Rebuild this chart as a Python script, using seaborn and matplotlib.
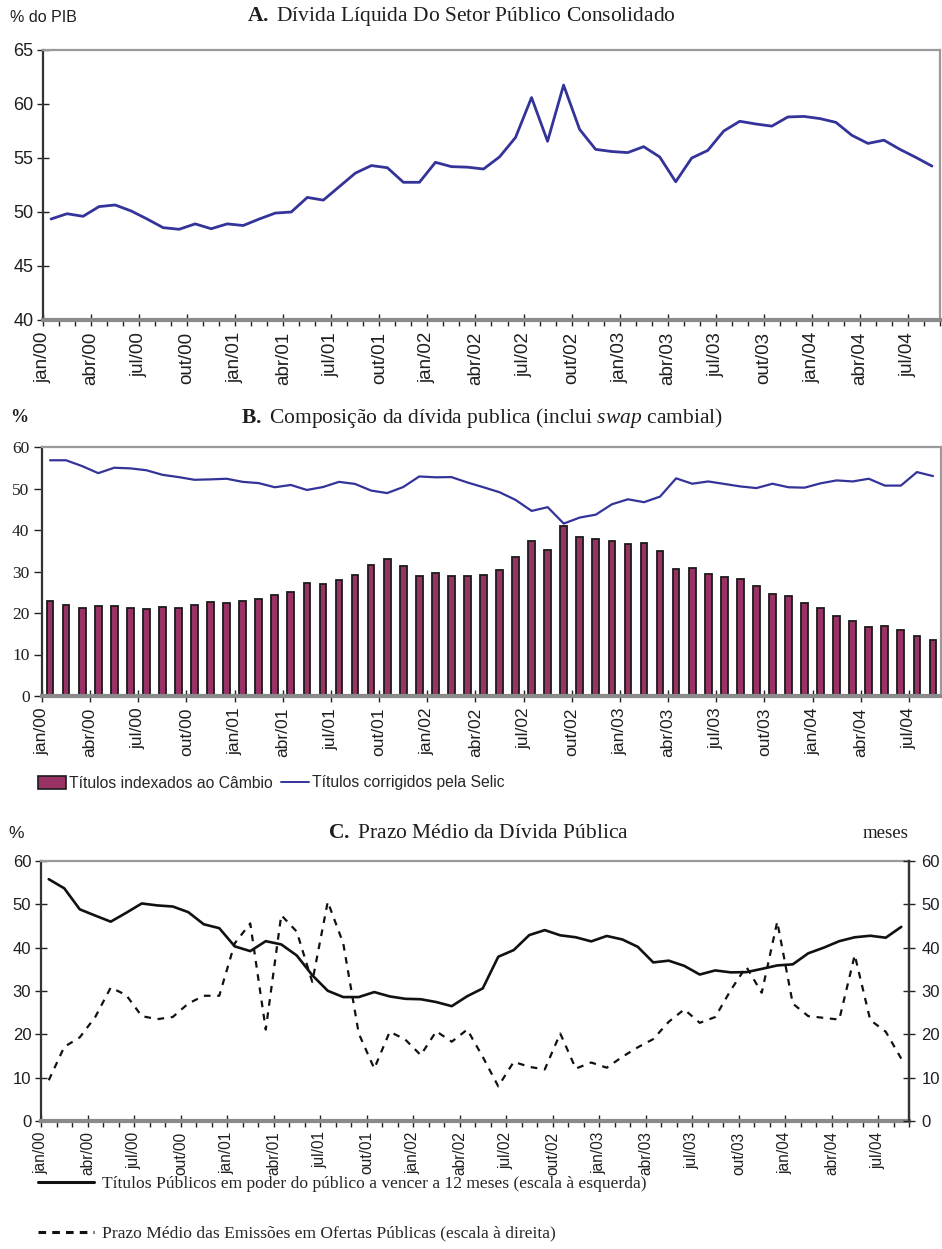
import numpy as np
import pandas as pd
import matplotlib
matplotlib.use("Agg")
import matplotlib.pyplot as plt
import seaborn as sns
from matplotlib.lines import Line2D
from matplotlib.patches import Patch

# ---------------- data (monthly, jan/00 .. ago/04) ----------------
n_months = 56
tick_labels = ["jan/00", "abr/00", "jul/00", "out/00",
               "jan/01", "abr/01", "jul/01", "out/01",
               "jan/02", "abr/02", "jul/02", "out/02",
               "jan/03", "abr/03", "jul/03", "out/03",
               "jan/04", "abr/04", "jul/04"]

divida_liquida = [49.35, 49.84, 49.6, 50.5, 50.65, 50.1, 49.35, 48.55, 48.4, 48.9,
                  48.45, 48.9, 48.75, 49.35, 49.9, 50.0, 51.35, 51.1, 52.35, 53.6,
                  54.3, 54.1, 52.75, 52.75, 54.6, 54.2, 54.15, 53.98, 55.1, 56.9,
                  60.6, 56.55, 61.75, 57.65, 55.8, 55.6, 55.5, 56.05, 55.1, 52.8,
                  55.0, 55.7, 57.5, 58.4, 58.15, 57.95, 58.8, 58.85, 58.65, 58.3,
                  57.1, 56.35, 56.65, 55.8, 55.05, 54.25]

titulos_cambio = [22.8, 21.85, 21.3, 21.65, 21.65, 21.25, 20.95, 21.5, 21.25, 21.85,
                  22.7, 22.45, 22.8, 23.35, 24.3, 25.1, 27.2, 27.0, 28.05, 29.1,
                  31.65, 33.0, 31.25, 28.85, 29.6, 28.9, 28.9, 29.05, 30.45, 33.4,
                  37.25, 35.2, 40.9, 38.2, 37.9, 37.25, 36.6, 36.85, 34.9, 30.5,
                  30.85, 29.35, 28.6, 28.15, 26.6, 24.55, 24.0, 22.4, 21.3, 19.25,
                  18.0, 16.55, 16.85, 16.0, 14.4, 13.45]

titulos_selic = [56.8, 56.8, 55.4, 53.7, 55.0, 54.85, 54.4, 53.3, 52.75, 52.1,
                 52.2, 52.35, 51.6, 51.3, 50.3, 50.85, 49.65, 50.35, 51.6, 51.1,
                 49.5, 48.9, 50.35, 52.9, 52.7, 52.75, 51.45, 50.3, 49.1, 47.25,
                 44.6, 45.5, 41.55, 43.0, 43.7, 46.2, 47.4, 46.7, 48.05, 52.45,
                 51.15, 51.7, 51.1, 50.5, 50.1, 51.15, 50.3, 50.2, 51.25, 51.95,
                 51.7, 52.35, 50.7, 50.7, 53.95, 53.0]

vencer_12m = [55.8, 53.7, 48.85, 47.4, 46.0, 48.05, 50.2, 49.75, 49.5, 48.2,
              45.4, 44.5, 40.3, 39.2, 41.5, 40.75, 38.2, 33.65, 30.05, 28.6,
              28.6, 29.75, 28.75, 28.2, 28.1, 27.45, 26.5, 28.8, 30.6, 37.9,
              39.45, 42.9, 44.05, 42.85, 42.4, 41.45, 42.7, 41.9, 40.2, 36.6,
              37.0, 35.8, 33.8, 34.75, 34.3, 34.35, 35.1, 35.9, 36.15, 38.7,
              40.0, 41.5, 42.4, 42.75, 42.3, 44.8]

prazo_medio = [9.4, 17.1, 19.3, 24.0, 30.8, 29.05, 24.2, 23.5, 24.0, 27.1,
               28.9, 28.9, 41.0, 45.6, 21.1, 47.5, 43.7, 32.1, 50.6, 41.0,
               20.2, 12.1, 20.6, 18.8, 15.2, 20.7, 18.3, 21.1, 14.8, 8.0,
               13.65, 12.5, 11.9, 20.2, 12.1, 13.5, 12.3, 14.8, 17.0, 18.9,
               22.9, 25.75, 22.65, 24.0, 30.2, 35.6, 29.6, 46.0, 27.1, 24.2,
               23.8, 23.4, 38.3, 23.3, 20.6, 14.4]

idx = np.arange(n_months)

# ---------------- style ----------------
sns.set_style("ticks")
plt.rcParams["font.family"] = ["Liberation Sans", "DejaVu Sans"]
plt.rcParams["mathtext.fontset"] = "custom"
plt.rcParams["mathtext.rm"] = "Liberation Serif"
plt.rcParams["mathtext.bf"] = "Liberation Serif:bold"
plt.rcParams["mathtext.it"] = "Liberation Serif:italic"

SERIF = ["Liberation Serif", "DejaVu Serif"]
SANS = ["Liberation Sans", "DejaVu Sans"]
BLUE = "#333399"
PLUM = "#993366"
TXT = "#1e1e1e"

W, H = 942, 1249
fig = plt.figure(figsize=(W / 100, H / 100), dpi=100)


def fx(px):
    return px / W


def fy(py):
    return 1 - py / H


def box(l, t, r, b):
    return [fx(l), fy(b), (r - l) / W, (b - t) / H]


major_pos = [-0.5 + 3 * k for k in range(len(tick_labels))]
minor_pos = [-0.5 + k for k in range(n_months + 1)]


def style_spines(ax, right_dark=False):
    ax.spines["top"].set_color("#9a9a9a")
    ax.spines["top"].set_linewidth(1.6)
    ax.spines["right"].set_color("#333333" if right_dark else "#9a9a9a")
    ax.spines["right"].set_linewidth(1.6)
    ax.spines["left"].set_color("#333333")
    ax.spines["left"].set_linewidth(1.6)
    ax.spines["bottom"].set_color("#8a8a8a")
    ax.spines["bottom"].set_linewidth(3.0)


def style_xaxis(ax, size, minor=True, pad=4):
    ax.set_xlim(-0.5, n_months - 0.5)
    ax.set_xticks(major_pos)
    ax.set_xticklabels(tick_labels, rotation=90, ha="center", va="top",
                       fontsize=size, family=SANS, color=TXT)
    if minor:
        ax.set_xticks(minor_pos, minor=True)
        ax.tick_params(axis="x", which="minor", direction="out", length=4,
                       width=1, color="#222222")
    ax.tick_params(axis="x", which="major", direction="inout", length=9,
                   width=1, color="#222222", pad=pad)
    ax.set_xlabel("")


# ---------------- Panel A ----------------
axA = fig.add_axes(box(43, 50, 940, 320))
sns.lineplot(x=idx, y=divida_liquida, ax=axA, color=BLUE, linewidth=2.0)
axA.set_ylim(40, 65)
axA.set_yticks(range(40, 66, 5))
axA.tick_params(axis="y", direction="inout", length=8, width=1,
                color="#222222", labelsize=13, labelcolor=TXT, pad=3)
style_xaxis(axA, 13.5)
style_spines(axA)
axA.set_ylabel("")

fig.text(fx(10), fy(18), "% do PIB", ha="left", va="center",
         fontsize=11.5, family=SANS, color=TXT)
fig.text(fx(461), fy(17), r"$\mathbf{A.}$ Dívida Líquida Do Setor Público Consolidado",
         ha="center", va="center", fontsize=15.5, family=SERIF, color=TXT)

# ---------------- Panel B ----------------
axB = fig.add_axes(box(42, 447, 941, 696))
sns.barplot(x=idx, y=titulos_cambio, ax=axB, color=PLUM, saturation=1,
            width=0.42, edgecolor="#1a1a1a", linewidth=1.3)
sns.lineplot(x=idx, y=titulos_selic, ax=axB, color=BLUE, linewidth=1.6)
axB.set_ylim(0, 60)
axB.set_yticks(range(0, 61, 10))
axB.set_yticklabels([str(v) for v in range(0, 61, 10)], family=SERIF,
                    fontsize=12.5, color=TXT)
axB.tick_params(axis="y", direction="out", length=6, width=1,
                color="#222222", pad=3)
style_xaxis(axB, 12.5, minor=False)
style_spines(axB)
axB.set_ylabel("")

fig.text(fx(10), fy(418), "%", ha="left", va="center", fontsize=13,
         family=SERIF, fontweight="bold", color=TXT)
fig.text(fx(482), fy(418),
         r"$\mathbf{B.}$ Composição da dívida publica (inclui $\mathit{swap}$ cambial)",
         ha="center", va="center", fontsize=15.5, family=SERIF, color=TXT)

legB = fig.legend(
    handles=[Patch(facecolor=PLUM, edgecolor="#1a1a1a", linewidth=1.2),
             Line2D([0], [0], color=BLUE, linewidth=1.4)],
    labels=["Títulos indexados ao Câmbio", "Títulos corrigidos pela Selic"],
    loc="center left", bbox_to_anchor=(fx(38), fy(783)), ncol=2,
    frameon=False, handlelength=1.8, handleheight=0.9,
    handletextpad=0.2, columnspacing=0.5, borderpad=0, borderaxespad=0,
    prop={"family": SANS, "size": 11.3})

# ---------------- Panel C ----------------
axC = fig.add_axes(box(41, 861, 909, 1121))
sns.lineplot(x=idx, y=vencer_12m, ax=axC, color="#111111", linewidth=1.9)
axC.set_ylim(0, 60)
axC.set_yticks(range(0, 61, 10))
axC.tick_params(axis="y", direction="inout", length=8, width=1,
                color="#222222", labelsize=12, labelcolor=TXT, pad=3)
style_xaxis(axC, 11.2, pad=3)
style_spines(axC, right_dark=True)
axC.set_ylabel("")

axC2 = axC.twinx()
sns.lineplot(x=idx, y=prazo_medio, ax=axC2, color="#111111", linewidth=1.6,
             linestyle=(0, (3, 3)))
axC2.set_ylim(0, 60)
axC2.set_yticks(range(0, 61, 10))
axC2.tick_params(axis="y", direction="inout", length=8, width=1,
                 color="#222222", labelsize=12, labelcolor=TXT, pad=5)
axC2.set_ylabel("")
for s in ["top", "left", "bottom"]:
    axC2.spines[s].set_visible(False)
axC2.spines["right"].set_color("#333333")
axC2.spines["right"].set_linewidth(1.6)

fig.text(fx(8), fy(833), "%", ha="left", va="center", fontsize=12.5,
         family=SANS, color=TXT)
fig.text(fx(478), fy(833), r"$\mathbf{C.}$ Prazo Médio da Dívida Pública",
         ha="center", va="center", fontsize=15.5, family=SERIF, color=TXT)
fig.text(fx(908), fy(833), "meses", ha="right", va="center", fontsize=13.5,
         family=SERIF, color=TXT)

legC = fig.legend(
    handles=[Line2D([0], [0], color="#111111", linewidth=2.2),
             Line2D([0], [0], color="#111111", linewidth=2.2, linestyle=(0, (2.5, 2)))],
    labels=["Títulos Públicos em poder do público a vencer a 12 meses (escala à esquerda)",
            "Prazo Médio das Emissões em Ofertas Públicas (escala à direita)"],
    loc="center left", bbox_to_anchor=(fx(38), fy(1209)), ncol=1,
    frameon=False, handlelength=3.2, handletextpad=0.45, labelspacing=1.9,
    borderpad=0, borderaxespad=0, prop={"family": SERIF, "size": 12.6})

fig.savefig("out.png", dpi=100)
